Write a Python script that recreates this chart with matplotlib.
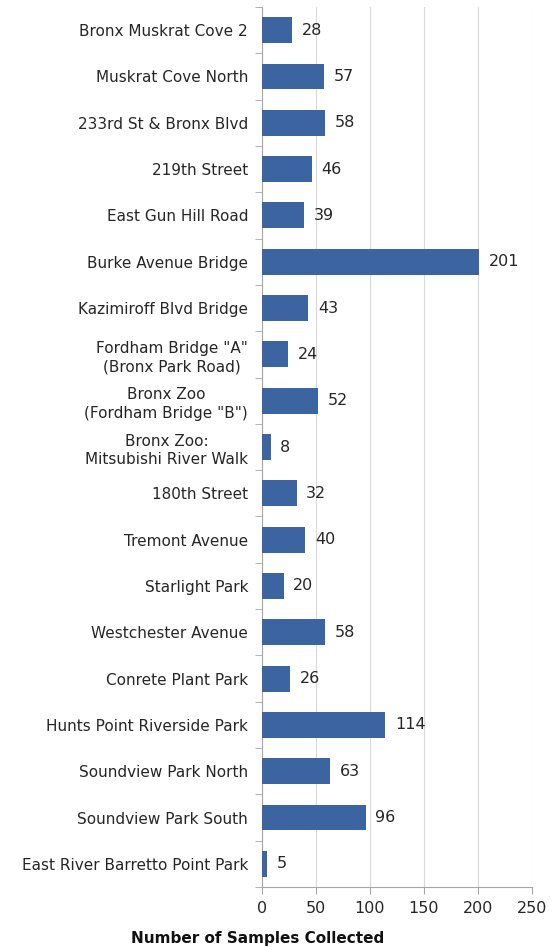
import numpy as np
import matplotlib.pyplot as plt

sites = [
    "Bronx Muskrat Cove 2",
    "Muskrat Cove North",
    "233rd St & Bronx Blvd",
    "219th Street",
    "East Gun Hill Road",
    "Burke Avenue Bridge",
    "Kazimiroff Blvd Bridge",
    "Fordham Bridge \"A\"\n(Bronx Park Road)",
    "Bronx Zoo\n(Fordham Bridge \"B\")",
    "Bronx Zoo:\nMitsubishi River Walk",
    "180th Street",
    "Tremont Avenue",
    "Starlight Park",
    "Westchester Avenue",
    "Conrete Plant Park",
    "Hunts Point Riverside Park",
    "Soundview Park North",
    "Soundview Park South",
    "East River Barretto Point Park",
]
samples = [28, 57, 58, 46, 39, 201, 43, 24, 52, 8, 32, 40, 20, 58, 26, 114, 63, 96, 5]
xticks = [0, 50, 100, 150, 200, 250]

plt.rcParams["font.family"] = ["DejaVu Sans"]

fig = plt.figure(figsize=(5.59, 9.47), dpi=100)
ax = fig.add_axes([262 / 559, 1 - 887 / 947, 270 / 559, 880 / 947])

y = np.arange(len(sites))
ax.barh(y, samples, height=0.56, color="#3b64a0", zorder=3)
for yi, v in zip(y, samples):
    ax.text(v + 9, yi, str(v), va="center", ha="left", fontsize=11.5, color="#262626")

ax.set_ylim(len(sites) - 0.5, -0.5)
ax.set_xlim(0, 250)
ax.set_yticks(y)
ax.set_yticklabels(sites, fontsize=11, color="#262626", linespacing=1.3,
                   multialignment="center")
ax.tick_params(axis="y", which="major", length=0, pad=10)
ax.set_yticks(np.arange(len(sites) + 1) - 0.5, minor=True)
ax.tick_params(axis="y", which="minor", length=5, color="#a6a6a6", direction="out")

ax.set_xticks(xticks)
ax.set_xticklabels([str(t) for t in xticks], fontsize=11.5, color="#262626")
ax.tick_params(axis="x", length=5, color="#a6a6a6", pad=5)
ax.grid(axis="x", color="#d9d9d9", linewidth=0.8, zorder=0)

for side in ["top", "right"]:
    ax.spines[side].set_visible(False)
for side in ["left", "bottom"]:
    ax.spines[side].set_color("#a6a6a6")

fig.text(258 / 559, 1 - 938 / 947, "Number of Samples Collected",
         ha="center", va="center", fontsize=11, fontweight="bold", color="#111111")

fig.savefig("out.png", dpi=100)
